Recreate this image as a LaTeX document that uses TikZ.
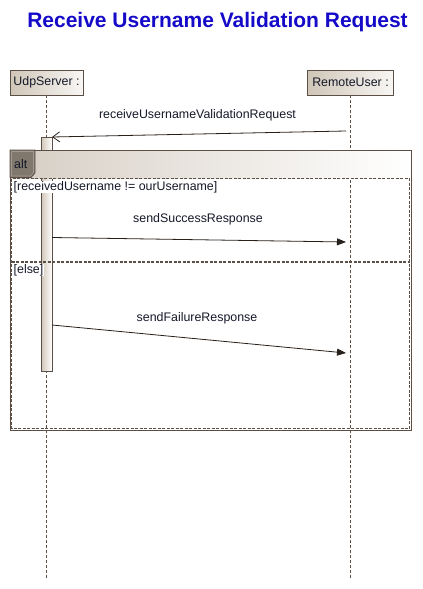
\documentclass[tikz,border=0pt]{standalone}
\usepackage{fontspec}
\setmainfont{Liberation Sans}
\usetikzlibrary{arrows.meta}
\definecolor{frameclr}{RGB}{92,80,70}
\definecolor{boxtan}{RGB}{208,198,184}
\definecolor{headtan}{RGB}{214,206,196}
\definecolor{tabgray}{RGB}{128,119,109}
\definecolor{titleblue}{RGB}{20,10,200}
\definecolor{msgclr}{RGB}{40,32,26}
\definecolor{txtclr}{RGB}{20,24,40}
\begin{document}
\begin{tikzpicture}[x=1pt,y=-1pt,
  lbl/.style={font=\fontsize{12.4}{14}\selectfont, text=txtclr, inner sep=0pt},
  lifehead/.style={draw=frameclr, line width=0.8pt, left color=boxtan, right color=boxtan!15,
    minimum height=25pt, inner sep=0pt, lbl},
  lifeline/.style={draw=frameclr, line width=0.8pt, dash pattern=on 3pt off 2pt},
  actbar/.style={draw=frameclr, line width=0.8pt, left color=boxtan, right color=white,
    minimum width=11pt, minimum height=234pt, inner sep=0pt},
  syncmsg/.style={draw=msgclr, line width=0.8pt, -{Triangle[length=9pt,width=7pt]}},
  replymsg/.style={draw=msgclr, line width=0.8pt, -{Straight Barb[length=7pt,width=10pt]}},
  framesolid/.style={draw=frameclr, line width=0.8pt},
  framedash/.style={draw=frameclr, line width=1.2pt, dash pattern=on 3pt off 1.5pt},
]
\useasboundingbox (0,0) rectangle (423,589);

% title
\node[font=\fontsize{21}{25}\bfseries, text=titleblue] (title) at (217.5,22) {Receive Username Validation Request};

% lifeline heads
\node[lifehead, minimum width=73pt] (udp) at (46.5,82.5) {UdpServer :};
\node[lifehead, minimum width=86pt] (remote) at (350.5,82.5) {RemoteUser :};

% lifelines
\coordinate (udpend) at (46.5,578);
\coordinate (remoteend) at (350.5,578);
\draw[lifeline] (udp.south) -- (udpend);
\draw[lifeline] (remote.south) -- (remoteend);

% activation bar of UdpServer
\node[actbar] (act) at (46.5,254) {};

% alt combined fragment: header band and tab
\shade[left color=headtan, right color=white] (10,150) rectangle (411,178);
\draw[framesolid] (10,150) rectangle (411,430);
\draw[framedash] (11.5,178.5) rectangle (409.5,428.5);
\filldraw[fill=tabgray, draw=frameclr, line width=0.8pt]
  (10,150) -- (35,150) -- (35,173) -- (31,177.5) -- (10,177.5) -- cycle;
\draw[draw=tabgray!75!white, line width=0.6pt]
  (11.5,151.5) -- (33.5,151.5) -- (33.5,172.5) -- (30.5,176) -- (11.5,176) -- cycle;
\node[lbl, anchor=west] (altlbl) at (14,164) {alt};

% operand separator
\draw[framedash] (11.5,262) -- (409.5,262);

% guards
\node[lbl, anchor=west, fill=white, inner xsep=1pt] (g1) at (12.5,187) {[receivedUsername != ourUsername]};
\node[lbl, anchor=west, fill=white, inner xsep=1pt] (g2) at (12.5,270) {[else]};

% messages
\coordinate (rq1) at (346,131);
\coordinate (rq2) at (52,137);
\draw[replymsg] (rq1) -- (rq2);
\node[lbl] (m1) at (197.5,115) {receiveUsernameValidationRequest};

\coordinate (s1) at (52,237.5);
\coordinate (s2) at (346,242);
\draw[syncmsg] (s1) -- (s2);
\node[lbl] (m2) at (198,219) {sendSuccessResponse};

\coordinate (f1) at (52,325);
\coordinate (f2) at (346,353);
\draw[syncmsg] (f1) -- (f2);
\node[lbl] (m3) at (197,318) {sendFailureResponse};
\end{tikzpicture}
\end{document}
